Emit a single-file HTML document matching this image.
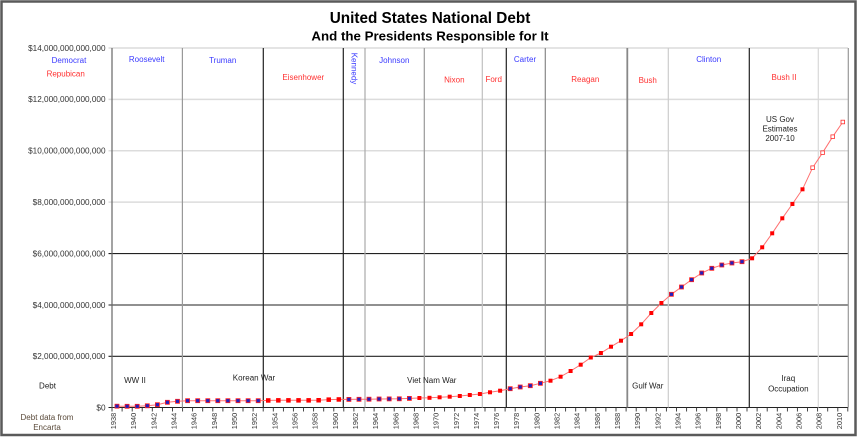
<!DOCTYPE html>
<html><head><meta charset="utf-8"><style>
html,body{margin:0;padding:0;background:#fff;}
svg{display:block;font-family:"Liberation Sans",Arial,sans-serif;}
.yl{font-size:8.2px;fill:#333;text-anchor:end;}
.xl{font-size:7.4px;fill:#333;text-anchor:end;}
.d{font-size:8px;fill:#3a3aff;text-anchor:middle;}
.r{font-size:8px;fill:#ff3030;text-anchor:middle;}
.a{font-size:8px;fill:#222;text-anchor:middle;}
.b{fill:#2020c0;stroke:#ff2020;stroke-width:0.8;}
.rd{fill:#ff0000;}
.h{fill:#fff;stroke:#ff3030;stroke-width:0.8;}
</style></head><body>
<svg width="858" height="438" viewBox="0 0 858 438" xmlns="http://www.w3.org/2000/svg">
<rect x="0" y="0" width="858" height="438" fill="#fff"/>
<rect x="1.5" y="1.5" width="854" height="433.5" fill="none" stroke="#5a5a5a" stroke-width="2.5"/>

<text x="430" y="23" font-size="15.3" font-weight="bold" text-anchor="middle" fill="#000">United States National Debt</text>
<text x="430" y="40.5" font-size="13.3" font-weight="bold" text-anchor="middle" fill="#000">And the Presidents Responsible for It</text>

<!-- light gridlines -->
<g stroke="#dcdcdc" stroke-width="1.5">
<line x1="108.5" y1="48" x2="848" y2="48"/>
<line x1="108.5" y1="99.4" x2="848" y2="99.4"/>
<line x1="108.5" y1="150.7" x2="848" y2="150.7"/>
<line x1="108.5" y1="202.1" x2="848" y2="202.1"/>
</g>
<!-- dark gridlines -->
<g stroke="#222" stroke-width="1.1">
<line x1="108.5" y1="253.6" x2="848" y2="253.6"/>
<line x1="108.5" y1="305" x2="848" y2="305"/>
<line x1="108.5" y1="356.3" x2="848" y2="356.3"/>
<line x1="108.5" y1="407.5" x2="848" y2="407.5"/>
</g>

<!-- vertical president lines -->
<g stroke-width="1.2">
<line x1="182.4" y1="48" x2="182.4" y2="407.5" stroke="#999"/>
<line x1="263.3" y1="48" x2="263.3" y2="407.5" stroke="#222"/>
<line x1="343.3" y1="48" x2="343.3" y2="407.5" stroke="#222"/>
<line x1="365" y1="48" x2="365" y2="407.5" stroke="#aaa"/>
<line x1="424.3" y1="48" x2="424.3" y2="407.5" stroke="#999"/>
<line x1="482.3" y1="48" x2="482.3" y2="407.5" stroke="#c0c0c0"/>
<line x1="506.3" y1="48" x2="506.3" y2="407.5" stroke="#222"/>
<line x1="545.3" y1="48" x2="545.3" y2="407.5" stroke="#888"/>
<line x1="627.3" y1="48" x2="627.3" y2="407.5" stroke="#888" stroke-width="1.8"/>
<line x1="668.3" y1="48" x2="668.3" y2="407.5" stroke="#ccc"/>
<line x1="749.3" y1="48" x2="749.3" y2="407.5" stroke="#222"/>
<line x1="818.3" y1="48" x2="818.3" y2="407.5" stroke="#d8d8d8"/>
<line x1="848.3" y1="48" x2="848.3" y2="407.5" stroke="#999"/>
<line x1="112" y1="48" x2="112" y2="407.5" stroke="#666"/>
</g>

<!-- y labels -->
<text class="yl" x="105.5" y="50.8">$14,000,000,000,000</text>
<text class="yl" x="105.5" y="102.2">$12,000,000,000,000</text>
<text class="yl" x="105.5" y="153.5">$10,000,000,000,000</text>
<text class="yl" x="105.5" y="204.9">$8,000,000,000,000</text>
<text class="yl" x="105.5" y="256.4">$6,000,000,000,000</text>
<text class="yl" x="105.5" y="307.8">$4,000,000,000,000</text>
<text class="yl" x="105.5" y="359.1">$2,000,000,000,000</text>
<text class="yl" x="105.5" y="410.3">$0</text>

<!-- x ticks -->
<g stroke="#333" stroke-width="0.9">
<line x1="112" y1="407.5" x2="112" y2="411.5"/><line x1="122.1" y1="407.5" x2="122.1" y2="411.5"/><line x1="132.2" y1="407.5" x2="132.2" y2="411.5"/><line x1="142.2" y1="407.5" x2="142.2" y2="411.5"/><line x1="152.3" y1="407.5" x2="152.3" y2="411.5"/><line x1="162.4" y1="407.5" x2="162.4" y2="411.5"/><line x1="172.5" y1="407.5" x2="172.5" y2="411.5"/><line x1="182.6" y1="407.5" x2="182.6" y2="411.5"/><line x1="192.6" y1="407.5" x2="192.6" y2="411.5"/><line x1="202.7" y1="407.5" x2="202.7" y2="411.5"/><line x1="212.8" y1="407.5" x2="212.8" y2="411.5"/><line x1="222.9" y1="407.5" x2="222.9" y2="411.5"/><line x1="233" y1="407.5" x2="233" y2="411.5"/><line x1="243" y1="407.5" x2="243" y2="411.5"/><line x1="253.1" y1="407.5" x2="253.1" y2="411.5"/><line x1="263.2" y1="407.5" x2="263.2" y2="411.5"/><line x1="273.3" y1="407.5" x2="273.3" y2="411.5"/><line x1="283.4" y1="407.5" x2="283.4" y2="411.5"/><line x1="293.4" y1="407.5" x2="293.4" y2="411.5"/><line x1="303.5" y1="407.5" x2="303.5" y2="411.5"/><line x1="313.6" y1="407.5" x2="313.6" y2="411.5"/><line x1="323.7" y1="407.5" x2="323.7" y2="411.5"/><line x1="333.8" y1="407.5" x2="333.8" y2="411.5"/><line x1="343.8" y1="407.5" x2="343.8" y2="411.5"/><line x1="353.9" y1="407.5" x2="353.9" y2="411.5"/><line x1="364" y1="407.5" x2="364" y2="411.5"/><line x1="374.1" y1="407.5" x2="374.1" y2="411.5"/><line x1="384.2" y1="407.5" x2="384.2" y2="411.5"/><line x1="394.2" y1="407.5" x2="394.2" y2="411.5"/><line x1="404.3" y1="407.5" x2="404.3" y2="411.5"/><line x1="414.4" y1="407.5" x2="414.4" y2="411.5"/><line x1="424.5" y1="407.5" x2="424.5" y2="411.5"/><line x1="434.6" y1="407.5" x2="434.6" y2="411.5"/><line x1="444.6" y1="407.5" x2="444.6" y2="411.5"/><line x1="454.7" y1="407.5" x2="454.7" y2="411.5"/><line x1="464.8" y1="407.5" x2="464.8" y2="411.5"/><line x1="474.9" y1="407.5" x2="474.9" y2="411.5"/><line x1="485" y1="407.5" x2="485" y2="411.5"/><line x1="495" y1="407.5" x2="495" y2="411.5"/><line x1="505.1" y1="407.5" x2="505.1" y2="411.5"/><line x1="515.2" y1="407.5" x2="515.2" y2="411.5"/><line x1="525.3" y1="407.5" x2="525.3" y2="411.5"/><line x1="535.4" y1="407.5" x2="535.4" y2="411.5"/><line x1="545.4" y1="407.5" x2="545.4" y2="411.5"/><line x1="555.5" y1="407.5" x2="555.5" y2="411.5"/><line x1="565.6" y1="407.5" x2="565.6" y2="411.5"/><line x1="575.7" y1="407.5" x2="575.7" y2="411.5"/><line x1="585.8" y1="407.5" x2="585.8" y2="411.5"/><line x1="595.8" y1="407.5" x2="595.8" y2="411.5"/><line x1="605.9" y1="407.5" x2="605.9" y2="411.5"/><line x1="616" y1="407.5" x2="616" y2="411.5"/><line x1="626.1" y1="407.5" x2="626.1" y2="411.5"/><line x1="636.2" y1="407.5" x2="636.2" y2="411.5"/><line x1="646.2" y1="407.5" x2="646.2" y2="411.5"/><line x1="656.3" y1="407.5" x2="656.3" y2="411.5"/><line x1="666.4" y1="407.5" x2="666.4" y2="411.5"/><line x1="676.5" y1="407.5" x2="676.5" y2="411.5"/><line x1="686.6" y1="407.5" x2="686.6" y2="411.5"/><line x1="696.6" y1="407.5" x2="696.6" y2="411.5"/><line x1="706.7" y1="407.5" x2="706.7" y2="411.5"/><line x1="716.8" y1="407.5" x2="716.8" y2="411.5"/><line x1="726.9" y1="407.5" x2="726.9" y2="411.5"/><line x1="737" y1="407.5" x2="737" y2="411.5"/><line x1="747" y1="407.5" x2="747" y2="411.5"/><line x1="757.1" y1="407.5" x2="757.1" y2="411.5"/><line x1="767.2" y1="407.5" x2="767.2" y2="411.5"/><line x1="777.3" y1="407.5" x2="777.3" y2="411.5"/><line x1="787.4" y1="407.5" x2="787.4" y2="411.5"/><line x1="797.4" y1="407.5" x2="797.4" y2="411.5"/><line x1="807.5" y1="407.5" x2="807.5" y2="411.5"/><line x1="817.6" y1="407.5" x2="817.6" y2="411.5"/><line x1="827.7" y1="407.5" x2="827.7" y2="411.5"/><line x1="837.8" y1="407.5" x2="837.8" y2="411.5"/><line x1="847.8" y1="407.5" x2="847.8" y2="411.5"/>
</g>

<!-- x labels -->
<g class="xl">
<text transform="translate(116,412.8) rotate(-90)">1938</text>
<text transform="translate(136.2,412.8) rotate(-90)">1940</text>
<text transform="translate(156.4,412.8) rotate(-90)">1942</text>
<text transform="translate(176.5,412.8) rotate(-90)">1944</text>
<text transform="translate(196.7,412.8) rotate(-90)">1946</text>
<text transform="translate(216.8,412.8) rotate(-90)">1948</text>
<text transform="translate(237,412.8) rotate(-90)">1950</text>
<text transform="translate(257.2,412.8) rotate(-90)">1952</text>
<text transform="translate(277.3,412.8) rotate(-90)">1954</text>
<text transform="translate(297.5,412.8) rotate(-90)">1956</text>
<text transform="translate(317.6,412.8) rotate(-90)">1958</text>
<text transform="translate(337.8,412.8) rotate(-90)">1960</text>
<text transform="translate(358,412.8) rotate(-90)">1962</text>
<text transform="translate(378.1,412.8) rotate(-90)">1964</text>
<text transform="translate(398.3,412.8) rotate(-90)">1966</text>
<text transform="translate(418.4,412.8) rotate(-90)">1968</text>
<text transform="translate(438.6,412.8) rotate(-90)">1970</text>
<text transform="translate(458.8,412.8) rotate(-90)">1972</text>
<text transform="translate(478.9,412.8) rotate(-90)">1974</text>
<text transform="translate(499.1,412.8) rotate(-90)">1976</text>
<text transform="translate(519.2,412.8) rotate(-90)">1978</text>
<text transform="translate(539.4,412.8) rotate(-90)">1980</text>
<text transform="translate(559.6,412.8) rotate(-90)">1982</text>
<text transform="translate(579.7,412.8) rotate(-90)">1984</text>
<text transform="translate(599.9,412.8) rotate(-90)">1986</text>
<text transform="translate(620,412.8) rotate(-90)">1988</text>
<text transform="translate(640.2,412.8) rotate(-90)">1990</text>
<text transform="translate(660.4,412.8) rotate(-90)">1992</text>
<text transform="translate(680.5,412.8) rotate(-90)">1994</text>
<text transform="translate(700.7,412.8) rotate(-90)">1996</text>
<text transform="translate(720.8,412.8) rotate(-90)">1998</text>
<text transform="translate(741,412.8) rotate(-90)">2000</text>
<text transform="translate(761.2,412.8) rotate(-90)">2002</text>
<text transform="translate(781.3,412.8) rotate(-90)">2004</text>
<text transform="translate(801.5,412.8) rotate(-90)">2006</text>
<text transform="translate(821.6,412.8) rotate(-90)">2008</text>
<text transform="translate(841.8,412.8) rotate(-90)">2010</text>
</g>

<!-- president labels -->
<text class="d" x="69" y="62.8">Democrat</text>
<text class="r" x="65.7" y="76.5">Repubican</text>
<text class="d" x="146.7" y="61.8">Roosevelt</text>
<text class="d" x="222.7" y="62.8">Truman</text>
<text class="r" x="303.3" y="79.8">Eisenhower</text>
<text class="d" transform="translate(351.5,68.5) rotate(90)">Kennedy</text>
<text class="d" x="394.3" y="62.8">Johnson</text>
<text class="r" x="454.3" y="82.5">Nixon</text>
<text class="r" x="493.7" y="81.8">Ford</text>
<text class="d" x="525" y="61.8">Carter</text>
<text class="r" x="585.3" y="81.8">Reagan</text>
<text class="r" x="647.7" y="82.8">Bush</text>
<text class="d" x="708.7" y="61.8">Clinton</text>
<text class="r" x="784" y="79.8">Bush II</text>

<text class="a" x="780" y="121.8">US Gov</text>
<text class="a" x="780" y="131.5">Estimates</text>
<text class="a" x="780" y="141.1">2007-10</text>

<text class="a" x="47.5" y="388.5">Debt</text>
<text class="a" x="135" y="382.8">WW II</text>
<text class="a" x="254" y="380.5">Korean War</text>
<text class="a" x="431.8" y="382.8">Viet Nam War</text>
<text class="a" x="647.8" y="388.5">Gulf War</text>
<text class="a" x="788.3" y="380.8">Iraq</text>
<text class="a" x="788.3" y="391.5">Occupation</text>
<text class="a" x="47" y="420" style="fill:#5a4a3a">Debt data from</text>
<text class="a" x="47" y="430" style="fill:#5a4a3a">Encarta</text>

<!-- data line -->
<polyline fill="none" stroke="#ff7070" stroke-width="1" points="117,406.2 127.1,406.3 137.2,406.3 147.3,405.8 157.4,404.7 167.4,402.3 177.5,401.3 187.6,400.7 197.7,400.7 207.8,400.7 217.8,400.7 227.9,400.7 238,400.7 248.1,400.7 258.2,400.7 268.2,400.4 278.3,400.3 288.4,400.3 298.5,400.3 308.6,400.3 318.6,400.2 328.7,399.6 338.8,399.4 348.9,399.4 359,399.3 369,399.2 379.1,399 389.2,398.9 399.3,398.8 409.4,398.4 419.4,398 429.5,397.8 439.6,397.3 449.7,396.7 459.8,396 469.8,395 479.9,394 490,392.3 500.1,390.7 510.2,388.7 520.2,387 530.3,385.7 540.4,383.3 550.5,380.7 560.6,376.7 570.6,371 580.7,364.7 590.8,357.5 600.9,353 611,346.7 621,340.7 631.1,334 641.2,324.3 651.3,313 661.4,303 671.4,294.3 681.5,287 691.6,279.7 701.7,273 711.8,268.3 721.8,265 731.9,263 742,261.7 752.1,258.3 762.2,247.3 772.2,233.3 782.3,218.3 792.4,204 802.5,189.3 812.6,167.7 822.6,152.7 832.7,136.7 842.8,122"/>

<!-- markers -->
<g class="b">
<rect x="115" y="404.2" width="4" height="4"/><rect x="125.1" y="404.3" width="4" height="4"/><rect x="135.2" y="404.3" width="4" height="4"/><rect x="145.3" y="403.8" width="4" height="4"/><rect x="155.4" y="402.7" width="4" height="4"/><rect x="165.4" y="400.3" width="4" height="4"/><rect x="175.5" y="399.3" width="4" height="4"/><rect x="185.6" y="398.7" width="4" height="4"/><rect x="195.7" y="398.7" width="4" height="4"/><rect x="205.8" y="398.7" width="4" height="4"/><rect x="215.8" y="398.7" width="4" height="4"/><rect x="225.9" y="398.7" width="4" height="4"/><rect x="236" y="398.7" width="4" height="4"/><rect x="246.1" y="398.7" width="4" height="4"/><rect x="256.2" y="398.7" width="4" height="4"/>
<rect x="346.9" y="397.4" width="4" height="4"/><rect x="357" y="397.3" width="4" height="4"/><rect x="367" y="397.2" width="4" height="4"/><rect x="377.1" y="397" width="4" height="4"/><rect x="387.2" y="396.9" width="4" height="4"/><rect x="397.3" y="396.8" width="4" height="4"/><rect x="407.4" y="396.4" width="4" height="4"/>
<rect x="508.2" y="386.7" width="4" height="4"/><rect x="518.2" y="385" width="4" height="4"/><rect x="528.3" y="383.7" width="4" height="4"/><rect x="538.4" y="381.3" width="4" height="4"/>
<rect x="669.4" y="292.3" width="4" height="4"/><rect x="679.5" y="285" width="4" height="4"/><rect x="689.6" y="277.7" width="4" height="4"/><rect x="699.7" y="271" width="4" height="4"/><rect x="709.8" y="266.3" width="4" height="4"/><rect x="719.8" y="263" width="4" height="4"/><rect x="729.9" y="261" width="4" height="4"/><rect x="740" y="259.7" width="4" height="4"/>
</g>
<g class="rd">
<rect x="266" y="398.2" width="4.5" height="4.5"/><rect x="276.1" y="398.1" width="4.5" height="4.5"/><rect x="286.2" y="398.1" width="4.5" height="4.5"/><rect x="296.3" y="398.1" width="4.5" height="4.5"/><rect x="306.4" y="398.1" width="4.5" height="4.5"/><rect x="316.4" y="398" width="4.5" height="4.5"/><rect x="326.5" y="397.4" width="4.5" height="4.5"/><rect x="336.6" y="397.2" width="4.5" height="4.5"/>
<rect x="417.4" y="396" width="4" height="4"/><rect x="427.5" y="395.8" width="4" height="4"/><rect x="437.6" y="395.3" width="4" height="4"/><rect x="447.7" y="394.7" width="4" height="4"/><rect x="457.8" y="394" width="4" height="4"/><rect x="467.8" y="393" width="4" height="4"/><rect x="477.9" y="392" width="4" height="4"/><rect x="488" y="390.3" width="4" height="4"/><rect x="498.1" y="388.7" width="4" height="4"/>
<rect x="548.5" y="378.7" width="4" height="4"/><rect x="558.6" y="374.7" width="4" height="4"/><rect x="568.6" y="369" width="4" height="4"/><rect x="578.7" y="362.7" width="4" height="4"/><rect x="588.8" y="355.5" width="4" height="4"/><rect x="598.9" y="351" width="4" height="4"/><rect x="609" y="344.7" width="4" height="4"/><rect x="619" y="338.7" width="4" height="4"/><rect x="629.1" y="332" width="4" height="4"/><rect x="639.2" y="322.3" width="4" height="4"/><rect x="649.3" y="311" width="4" height="4"/><rect x="659.4" y="301" width="4" height="4"/>
<rect x="750.1" y="256.3" width="4" height="4"/><rect x="760.2" y="245.3" width="4" height="4"/><rect x="770.2" y="231.3" width="4" height="4"/><rect x="780.3" y="216.3" width="4" height="4"/><rect x="790.4" y="202" width="4" height="4"/><rect x="800.5" y="187.3" width="4" height="4"/>
</g>
<g class="h">
<rect x="810.8" y="165.9" width="3.6" height="3.6"/><rect x="820.8" y="150.9" width="3.6" height="3.6"/><rect x="830.9" y="134.9" width="3.6" height="3.6"/><rect x="841" y="120.2" width="3.6" height="3.6"/>
</g>
</svg>
</body></html>
